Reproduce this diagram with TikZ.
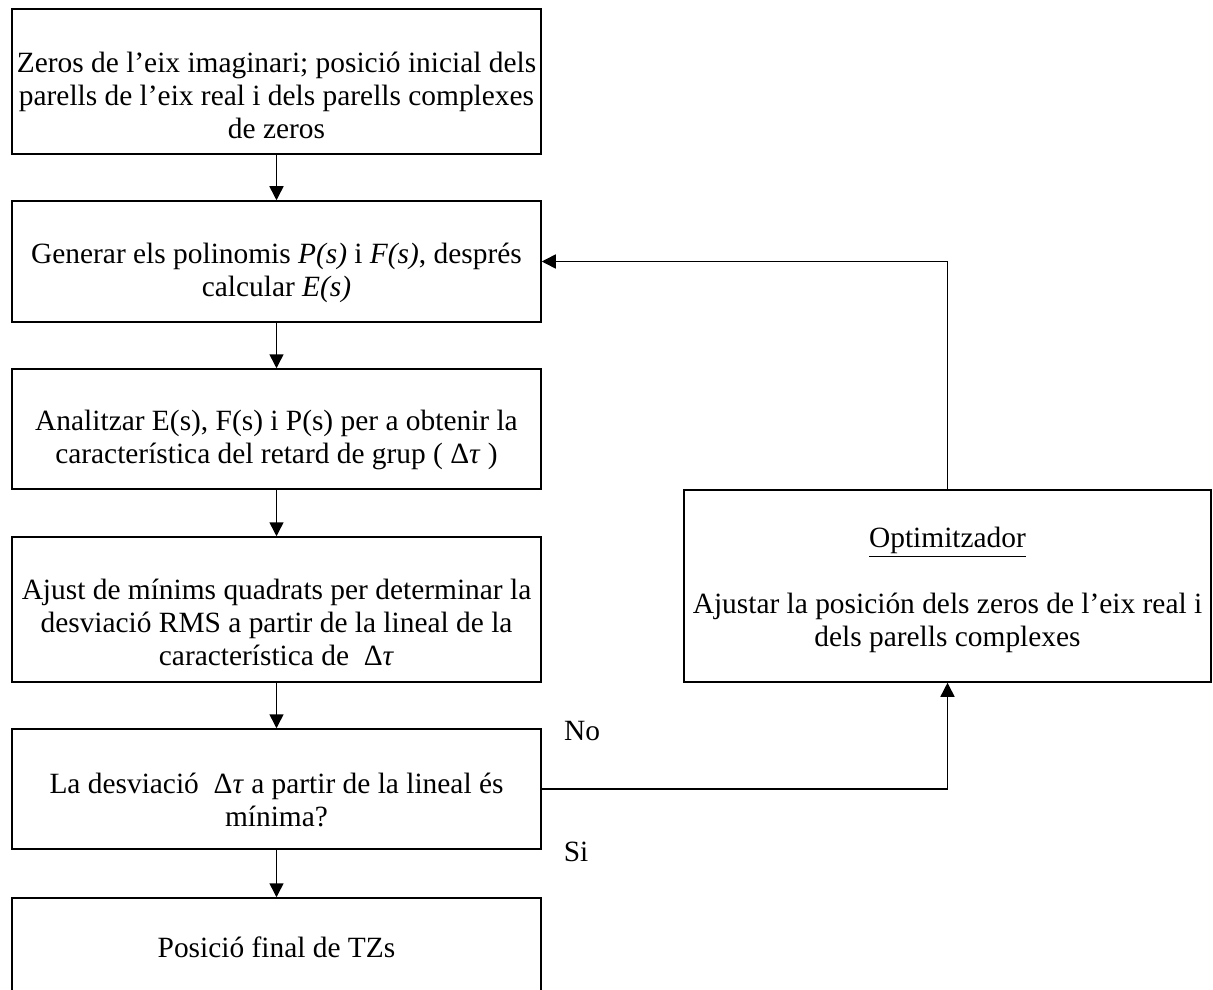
\documentclass[tikz,border=0pt]{standalone}
\usepackage{fontspec}
\setmainfont{Liberation Serif}
\usetikzlibrary{arrows.meta}
\begin{document}
\begin{tikzpicture}[x=0.5pt,y=-0.5pt,
 box/.style={draw,line width=0.75pt,inner sep=0pt,minimum width=264.5pt},
 txt/.style={align=center,inner sep=0pt,font=\fontsize{14.7}{16.5}\selectfont},
 arr/.style={line width=0.75pt,-{Triangle[length=7pt,width=7pt]}}]
\useasboundingbox (0,0) rectangle (1213,989);
\clip (0,0) rectangle (1213,989);
% boxes
\node[box,minimum height=72.5pt] (b1) at (276.5,81.5) {};
\node[box,minimum height=60.5pt] (b2) at (276.5,261.5) {};
\node[box,minimum height=60pt] (b3) at (276.5,429) {};
\node[box,minimum height=72.5pt] (b4) at (276.5,609.5) {};
\node[box,minimum height=60pt] (b5) at (276.5,789) {};
\node[box,minimum height=48.5pt] (b6) at (276.5,946.5) {};
\node[box,minimum width=263.5pt,minimum height=96pt] (opt) at (947.5,586) {};
% texts
\node[txt] (t1) at (276.5,95.5) {Zeros de l’eix imaginari; posició inicial dels\\parells de l’eix real i dels parells complexes\\de zeros};
\node[txt] (t2) at (276.5,273) {Generar els polinomis \textit{P(s)} i \textit{F(s)}, després\\calcular \textit{E(s)}};
\node[txt] (t3) at (276.5,440) {Analitzar E(s), F(s) i P(s) per a obtenir la\\característica del retard de grup ( Δ\textit{τ} )};
\node[txt] (t4) at (276.5,622) {Ajust de mínims quadrats per determinar la\\desviació RMS a partir de la lineal de la\\característica de \ Δ\textit{τ}};
\node[txt] (t5) at (276.5,800) {La desviació \ Δ\textit{τ} a partir de la lineal és\\mínima?};
\node[txt] (t6) at (276.5,947) {Posició final de TZs};
\node[txt] (t7) at (947.5,589.5) {\underline{Optimitzador}\\[16.5pt]Ajustar la posición dels zeros de l’eix real i\\dels parells complexes};
\node[txt] (no) at (582,731) {No};
\node[txt] (si) at (576,852) {Si};
% connectors
\draw[arr] (b1.south) -- (b2.north);
\draw[arr] (b2.south) -- (b3.north);
\draw[arr] (b3.south) -- (b4.north);
\draw[arr] (b4.south) -- (b5.north);
\draw[arr] (b5.south) -- (b6.north);
\draw[arr] (b5.east) -| (opt.south);
\draw[arr] (opt.north) |- (b2.east);
\end{tikzpicture}
\end{document}
